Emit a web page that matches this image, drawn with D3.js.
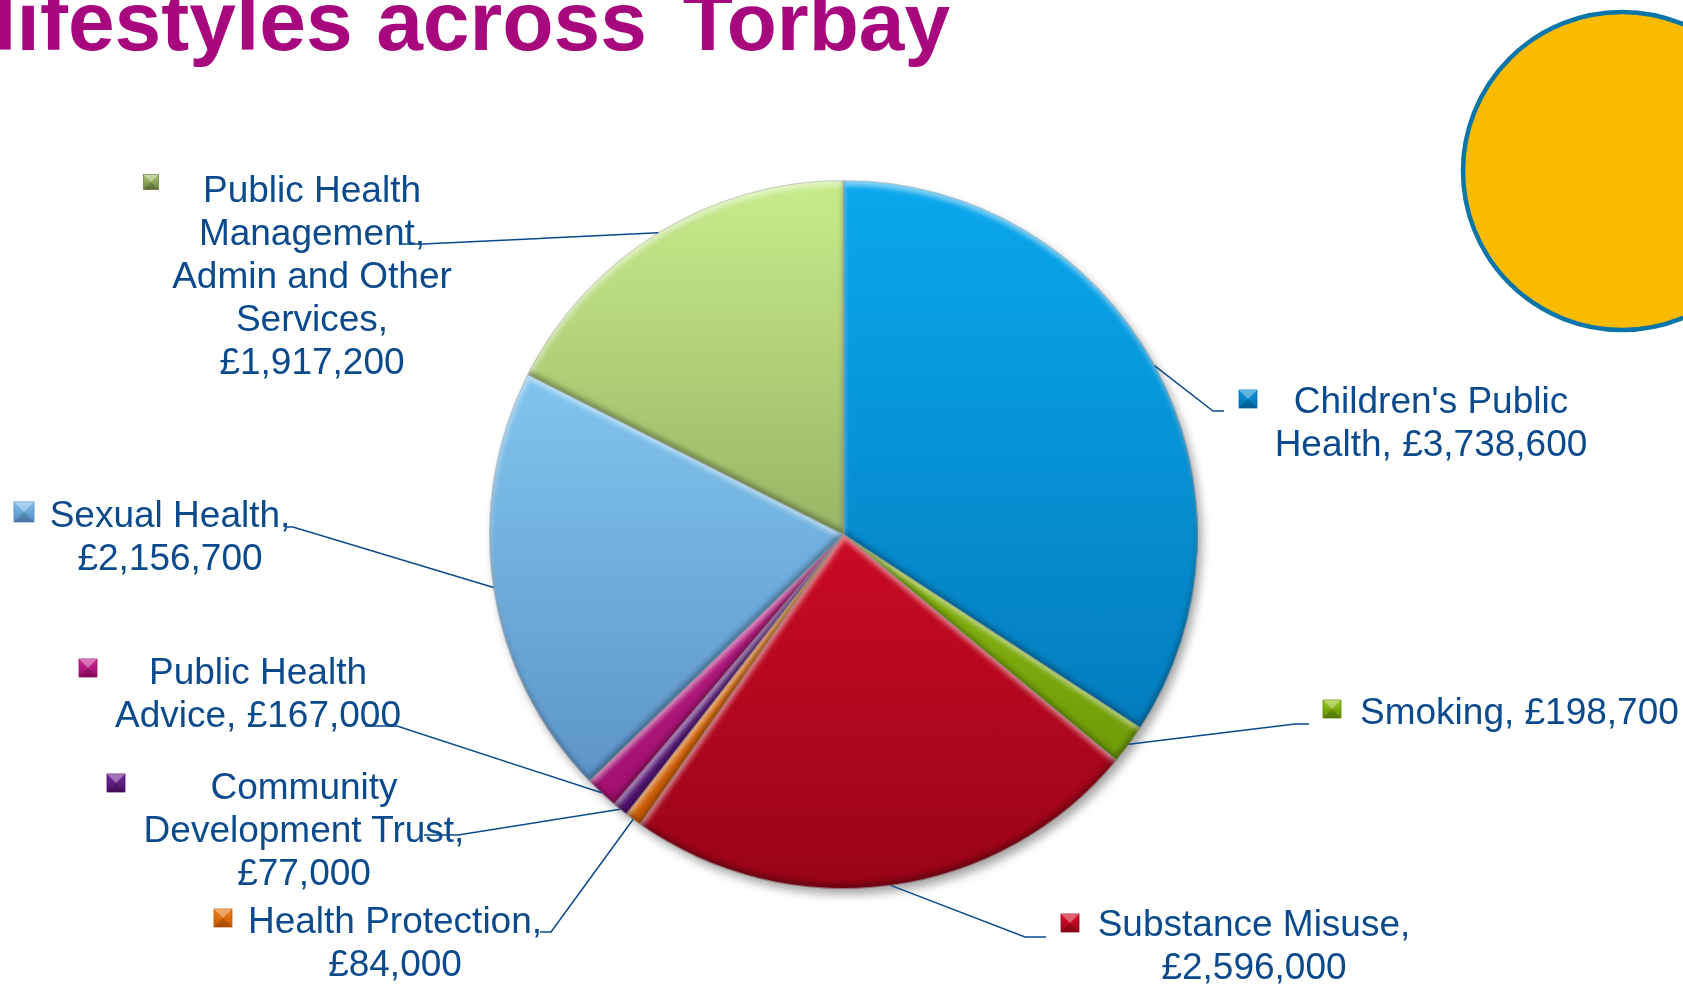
<!DOCTYPE html>
<html><head><meta charset="utf-8">
<script src="https://cdn.jsdelivr.net/npm/d3@7/dist/d3.min.js"></script>
<style>
html,body{margin:0;padding:0;background:#fff;overflow:hidden;}
svg{display:block;}
text{font-family:"Liberation Sans",Arial,sans-serif;}
</style></head>
<body>
<svg id="chart" width="1683" height="984"></svg>
<script>
// ---- data ----
const categories = [
  "Children's Public Health", "Smoking", "Substance Misuse", "Health Protection",
  "Community Development Trust", "Public Health Advice", "Sexual Health",
  "Public Health Management, Admin and Other Services"
];
const values = [3738600, 198700, 2596000, 84000, 77000, 167000, 2156700, 1917200];
const labelLines = [
  ["Children's Public", "Health, £3,738,600"],
  ["Smoking, £198,700"],
  ["Substance Misuse,", "£2,596,000"],
  ["Health Protection,", "£84,000"],
  ["Community", "Development Trust,", "£77,000"],
  ["Public Health", "Advice, £167,000"],
  ["Sexual Health,", "£2,156,700"],
  ["Public Health", "Management,", "Admin and Other", "Services,", "£1,917,200"]
];
const colorsLight = ["#0aa8ee", "#b8e82a", "#ff1232", "#ff9024", "#8a3aac", "#e03aa8", "#92dcff", "#c8ec8c"];
const colorsDark  = ["#0270b0", "#5e8a00", "#980418", "#c85800", "#4c106a", "#9a0a68", "#5488c0", "#6c8040"];
const titleWords = ["lifestyles across", "Torbay"];

// ---- layout (positions only) ----
const cx = 843.6, cy = 534.5, R = 354;
const layout = [
  {anchor:"middle", x:1431, y:413, sq:[1248,399,18], elbow:[1213,411], end:[1224,411]},
  {anchor:"start",  x:1360, y:724, sq:[1332,709,18], elbow:[1295,724], end:[1309,724]},
  {anchor:"middle", x:1254, y:936, sq:[1070,923,18], elbow:[1025,937], end:[1046,937]},
  {anchor:"middle", x:395,  y:933, sq:[223,918,18],  elbow:[551,932],  end:[540,932]},
  {anchor:"middle", x:304,  y:799, sq:[116,783,18],  elbow:[458,835],  end:[424,835]},
  {anchor:"middle", x:258,  y:684, sq:[88,668,18],   elbow:[397,726],  end:[365,726]},
  {anchor:"middle", x:170,  y:527, sq:[24,512,20],   elbow:[293,527],  end:[287,527]},
  {anchor:"middle", x:312,  y:202, sq:[151,182,15],  elbow:[423,244],  end:[400,244]}
];
const titleEnds = [647, 950];
const lineH = 43;
const textColor = "#0b4a8c";

const svg = d3.select("#chart");
const defs = svg.append("defs");

// drop shadow
const f = defs.append("filter").attr("id","shadow")
  .attr("filterUnits","userSpaceOnUse")
  .attr("x",-R-30).attr("y",-R-30).attr("width",2*R+60).attr("height",2*R+60)
  .attr("color-interpolation-filters","sRGB");
f.append("feDropShadow").attr("dx",4).attr("dy",6).attr("stdDeviation",5).attr("flood-color","#000").attr("flood-opacity",0.35);

// soft bevel (lit from top)
const bv = defs.append("filter").attr("id","bevel")
  .attr("filterUnits","userSpaceOnUse")
  .attr("x",-R-10).attr("y",-R-10).attr("width",2*R+20).attr("height",2*R+20)
  .attr("color-interpolation-filters","sRGB");
bv.append("feOffset").attr("in","SourceAlpha").attr("dx",1).attr("dy",5).attr("result","o1");
bv.append("feGaussianBlur").attr("in","o1").attr("stdDeviation",2.5).attr("result","b1");
bv.append("feComposite").attr("in","SourceAlpha").attr("in2","b1").attr("operator","out").attr("result","m1");
bv.append("feFlood").attr("flood-color","#ffffff").attr("flood-opacity",0.5).attr("result","f1");
bv.append("feComposite").attr("in","f1").attr("in2","m1").attr("operator","in").attr("result","hi");
bv.append("feOffset").attr("in","SourceAlpha").attr("dx",-1).attr("dy",-5).attr("result","o2");
bv.append("feGaussianBlur").attr("in","o2").attr("stdDeviation",2.5).attr("result","b2");
bv.append("feComposite").attr("in","SourceAlpha").attr("in2","b2").attr("operator","out").attr("result","m2");
bv.append("feFlood").attr("flood-color","#000000").attr("flood-opacity",0.3).attr("result","f2");
bv.append("feComposite").attr("in","f2").attr("in2","m2").attr("operator","in").attr("result","lo");
const mg = bv.append("feMerge");
mg.append("feMergeNode").attr("in","SourceGraphic");
mg.append("feMergeNode").attr("in","hi");
mg.append("feMergeNode").attr("in","lo");

// gradients per slice (vertical across the whole pie, in pie-local coords)
categories.forEach((c,i)=>{
  const g = defs.append("linearGradient").attr("id","g"+i)
    .attr("gradientUnits","userSpaceOnUse")
    .attr("x1",0).attr("x2",0).attr("y1",-R).attr("y2",R);
  g.append("stop").attr("offset","0%").attr("stop-color",colorsLight[i]);
  g.append("stop").attr("offset","100%").attr("stop-color",colorsDark[i]);
  const s = defs.append("linearGradient").attr("id","s"+i)
    .attr("x1",0).attr("x2",0).attr("y1",0).attr("y2",1);
  s.append("stop").attr("offset","0%").attr("stop-color",d3.interpolateRgb(colorsLight[i],colorsDark[i])(0.3));
  s.append("stop").attr("offset","100%").attr("stop-color",colorsDark[i]);
});

// ---- title ----
titleWords.forEach((w,i)=>{
  svg.append("text")
    .attr("x",titleEnds[i]).attr("y",50)
    .attr("text-anchor","end")
    .attr("font-size",i===0?84:82).attr("font-weight","bold")
    .attr("fill","#a8087e")
    .text(w);
});

// ---- decorative circle ----
svg.append("circle").attr("cx",1622).attr("cy",171).attr("r",159)
  .attr("fill","#f9bb00").attr("stroke","#0a75a8").attr("stroke-width",4.5);

// ---- pie ----
const pie = d3.pie().sort(null).value(d=>d)(values);
const arc = d3.arc().innerRadius(0).outerRadius(R);

const gp = svg.append("g").attr("transform",`translate(${cx},${cy})`);
const shadowG = gp.append("g").attr("filter","url(#shadow)");
shadowG.selectAll("path").data(pie).join("path")
  .attr("d",arc)
  .attr("fill",(d,i)=>`url(#g${i})`)
  .attr("filter","url(#bevel)");
gp.selectAll("path.sep").data(pie).join("path").attr("class","sep")
  .attr("d",arc)
  .attr("fill","none")
  .attr("stroke","rgba(150,150,150,0.55)").attr("stroke-width",0.8);

// ---- leader lines ----
const lead = svg.append("g");
pie.forEach((d,i)=>{
  const a = (d.startAngle+d.endAngle)/2;
  const p0 = [cx + R*Math.sin(a), cy - R*Math.cos(a)];
  const L = layout[i];
  lead.append("polyline")
    .attr("points",[p0, L.elbow, L.end].map(p=>p.join(",")).join(" "))
    .attr("fill","none").attr("stroke",textColor).attr("stroke-width",1.5);
});

// ---- labels ----
const lab = svg.append("g");
layout.forEach((L,i)=>{
  const t = lab.append("text")
    .attr("text-anchor",L.anchor)
    .attr("font-size",37).attr("fill",textColor);
  labelLines[i].forEach((s,k)=>{
    t.append("tspan").attr("x",L.x).attr("y",L.y + k*lineH).text(s);
  });
  // legend key square with pyramid bevel
  const [sx,sy,sz] = L.sq;
  const h = sz/2;
  const kg = lab.append("g").attr("transform",`translate(${sx-h},${sy-h})`);
  kg.append("rect").attr("width",sz).attr("height",sz).attr("fill",`url(#s${i})`)
    .attr("stroke",colorsDark[i]).attr("stroke-width",0.8);
  kg.append("path").attr("d",`M0,0 L${sz},0 L${h},${h} Z`).attr("fill","rgba(255,255,255,0.35)");
  kg.append("path").attr("d",`M0,${sz} L${sz},${sz} L${h},${h} Z`).attr("fill","rgba(0,0,0,0.15)");
});
</script>
</body></html>
